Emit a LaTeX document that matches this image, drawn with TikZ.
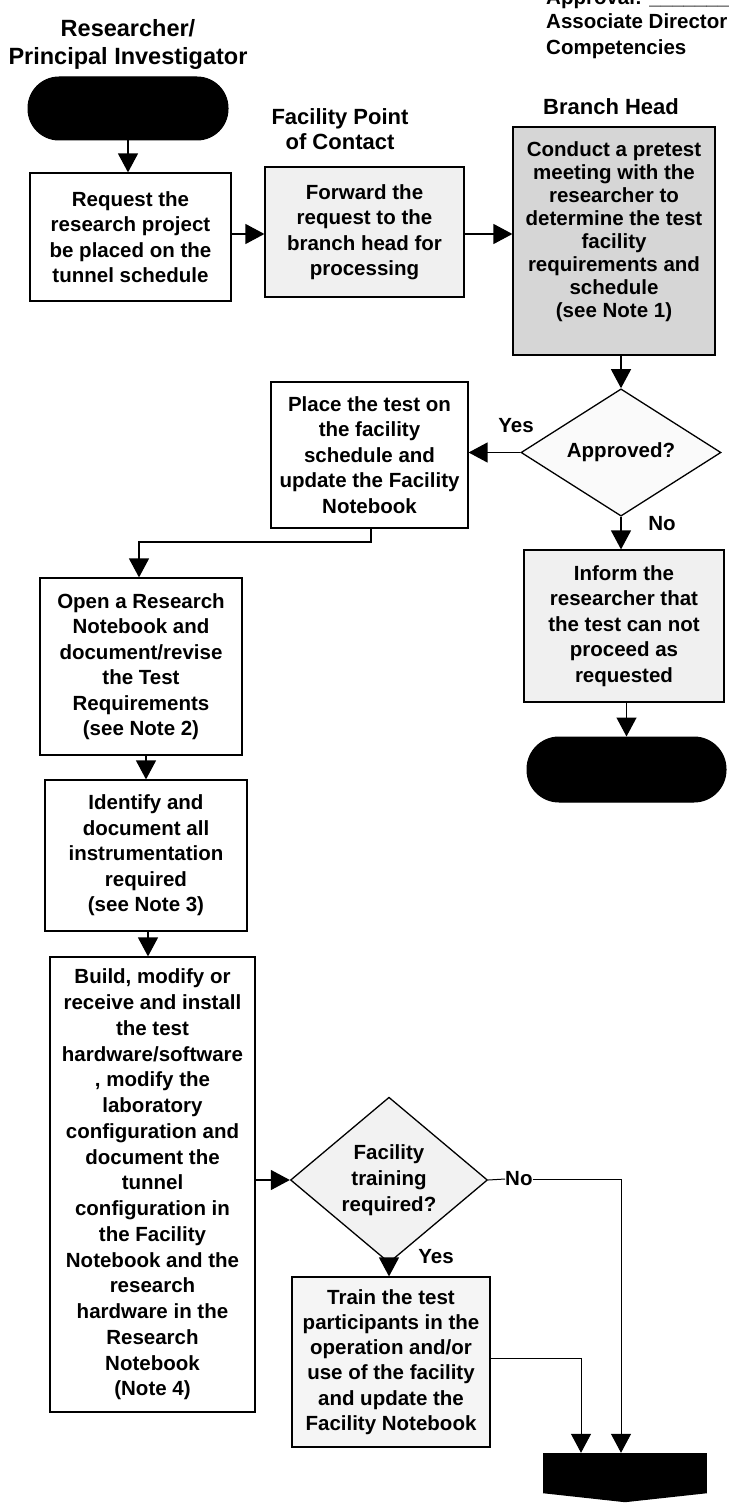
\documentclass[tikz,border=0pt]{standalone}
\usepackage{fontspec}
\setmainfont{Liberation Sans}
\usetikzlibrary{arrows.meta,shapes.geometric,calc}

\tikzset{
  txt/.style={font=\bfseries\fontsize{20.5}{25.5}\selectfont, align=center, inner sep=0pt},
  head/.style={font=\bfseries\fontsize{22}{27}\selectfont, align=center, inner sep=0pt},
  corner/.style={font=\bfseries\fontsize{20.5}{26}\selectfont, inner sep=0pt, anchor=base west},
  stepbox/.style={txt, draw, line width=1.2pt},
  decision/.style={txt, diamond, draw, line width=1.3pt, inner sep=0pt},
  terminal/.style={draw, fill=black, line width=1pt},
  conn/.style={line width=1.3pt},
  flow/.style={conn, -{Triangle[width=20pt,length=19pt]}},
  lbl/.style={txt, inner sep=0pt},
}

\begin{document}
\begin{tikzpicture}[x=1pt,y=-1pt]
\useasboundingbox (0,0) rectangle (728,1511);

% lane headings
\node[head, font=\bfseries\fontsize{23.5}{28}\selectfont, anchor=base] (hres1) at (128,37) {Researcher/};
\node[head, font=\bfseries\fontsize{23.5}{28}\selectfont, anchor=base] (hres2) at (128,65) {Principal Investigator};
\node[head, anchor=base] (hpoc1) at (340,125) {Facility Point};
\node[head, anchor=base] (hpoc2) at (340,150) {of Contact};
\node[head, anchor=base] (hbr) at (611,115) {Branch Head};

% approval block, top right
\node[corner] (appr) at (546,5) {Approval: \_\_\_\_\_\_\_};
\node[corner] (assoc) at (546,29) {Associate Director};
\node[corner] (comp) at (546,55) {Competencies};

% start terminal
\node[terminal, rounded corners=31pt, minimum width=200pt, minimum height=63pt] (start) at (128,108.5) {};

% first row
\node[stepbox, minimum width=201pt, minimum height=128pt] (b1) at (130.5,237)
  {Request the\\research project\\be placed on the\\tunnel schedule};
\node[stepbox, fill=gray!12, minimum width=199pt, minimum height=130pt] (b2) at (364.5,232)
  {Forward the\\request to the\\branch head for\\processing};
\node[draw, line width=1.2pt, fill=gray!32, minimum width=202pt, minimum height=228pt] (b3) at (614,241) {};
\node[txt, font=\bfseries\fontsize{20.5}{23}\selectfont, anchor=north] (b3text) at (614,141)
  {Conduct a pretest\\meeting with the\\researcher to\\determine the test\\facility\\requirements and\\schedule\\(see Note 1)};

% approval decision
\node[decision, fill=gray!4, minimum width=200pt, minimum height=125pt] (d1) at (621,452.5) {Approved?};
\node[stepbox, minimum width=197pt, minimum height=146pt] (b4) at (369.5,455)
  {Place the test on\\the facility\\schedule and\\update the Facility\\Notebook};
\node[stepbox, fill=gray!12, minimum width=200pt, minimum height=152pt] (inf) at (624,626)
  {Inform the\\researcher that\\the test can not\\proceed as\\requested};
\node[terminal, rounded corners=32pt, minimum width=199pt, minimum height=65pt] (stop1) at (626.5,769.5) {};

% left column
\node[stepbox, minimum width=202pt, minimum height=177pt] (b5) at (141,666.5)
  {Open a Research\\Notebook and\\document/revise\\the Test\\Requirements\\(see Note 2)};
\node[stepbox, minimum width=202pt, minimum height=151pt] (b6) at (146,855.5)
  {Identify and\\document all\\instrumentation\\required\\(see Note 3)};
\node[stepbox, minimum width=205pt, minimum height=455pt,
      font=\bfseries\fontsize{20.5}{25.75}\selectfont] (b7) at (152.5,1184.5)
  {Build, modify  or\\receive and install\\the test\\hardware/software\\, modify the\\laboratory\\configuration and\\document the\\tunnel\\configuration in\\the Facility\\Notebook and the\\research\\hardware in the\\Research\\Notebook\\(Note 4)};

% training decision
\node[decision, fill=gray!10, minimum width=197pt, minimum height=126pt,
      font=\bfseries\fontsize{20.5}{26}\selectfont] (d2) at (389,1180)
  {Facility\\training\\required?};
\node[stepbox, fill=gray!8, minimum width=198pt, minimum height=170pt,
      font=\bfseries\fontsize{20.5}{25.2}\selectfont] (tr) at (391,1362)
  {Train the test\\participants in the\\operation and/or\\use of the facility\\and update the\\Facility Notebook};

% off-page connector at the bottom
\node[fill=black, minimum width=164pt, minimum height=40pt, inner sep=0pt] (fin) at (625,1473) {};
\fill (fin.south west) -- ($(fin.south)+(0,9)$) -- (fin.south east) -- cycle;

% connectors
\draw[flow] (start.south) -- (start.south |- b1.north);
\draw[flow] (b1.east |- 0,234) -- (b2.west |- 0,234);
\draw[flow] (b2.east |- 0,234) -- (b3.west |- 0,234);
\draw[flow] (d1.north |- b3.south) -- (d1.north);
\draw[flow] (d1.west) -- (d1.west -| b4.east);
\node[lbl, anchor=base] (yes1) at (516,432) {Yes};
\draw[flow] (d1.south) -- (d1.south |- inf.north);
\node[lbl, anchor=base] (no1) at (662,530) {No};
\draw[flow] (inf.south -| stop1.north) -- (stop1.north);
\draw[flow] (b4.south -| 371,0) -- (371,542) -- (139,542) -- (b5.north -| 139,0);
\draw[flow] (b5.south -| 146,0) -- (b6.north);
\draw[flow] (b6.south -| 148,0) -- (b7.north -| 148,0);
\draw[flow] (b7.east |- d2.west) -- (d2.west);
\node[lbl, anchor=west] (no2) at (505,1179) {No};
\draw[conn, line width=1pt] (d2.east) -- (no2.west);
\draw[flow, line width=1pt] (no2.east) -- (621,1179) -- (fin.north -| 621,0);
\draw[flow] (d2.south) -- (d2.south |- tr.north);
\node[lbl, anchor=base] (yes2) at (436,1263) {Yes};
\draw[flow, line width=1pt] (tr.east |- 0,1358) -- (581,1358) -- (fin.north -| 581,0);
\end{tikzpicture}
\end{document}
